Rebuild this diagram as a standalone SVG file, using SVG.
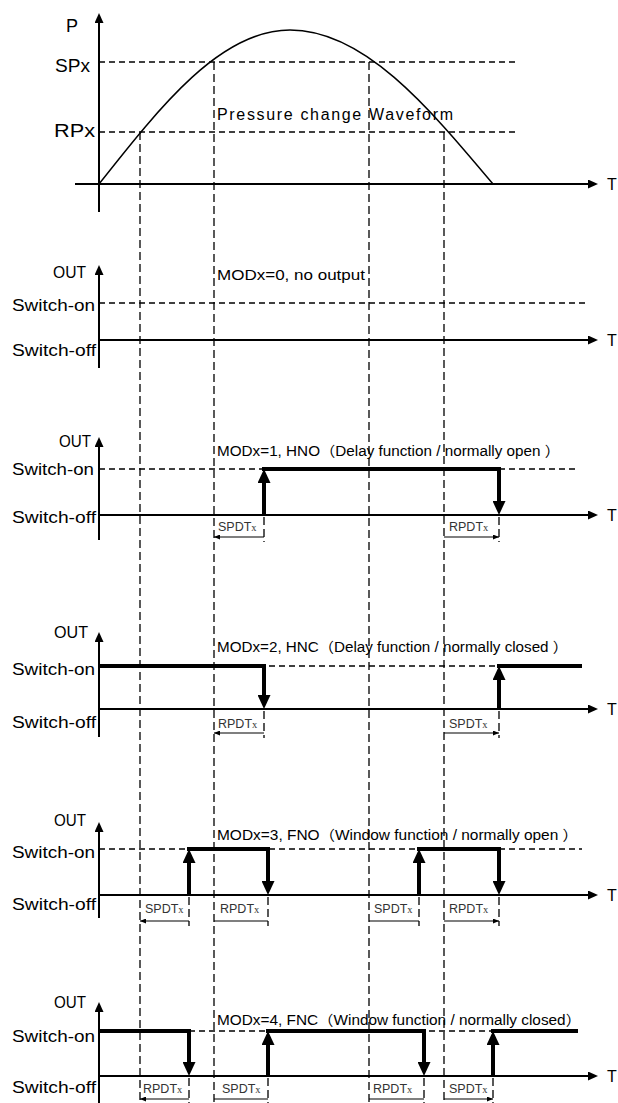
<svg xmlns="http://www.w3.org/2000/svg" width="618" height="1103" viewBox="0 0 618 1103">
<style>
.ax{stroke:#000;stroke-width:2;fill:none}
.xa{stroke:#000;stroke-width:1.8;fill:none}
.hd{stroke:#000;stroke-width:1.3;stroke-dasharray:6 4;fill:none}
.vd{stroke:#000;stroke-width:1.3;stroke-dasharray:8 4;fill:none}
.tk{stroke:#000;stroke-width:4;fill:none}
.ta{stroke:#000;stroke-width:4;fill:none;marker-end:url(#big)}
.dm{stroke:#000;stroke-width:1.2;fill:none;marker-start:url(#sm);marker-end:url(#sm)}
.cv{stroke:#000;stroke-width:1.5;fill:none}
text{font-family:"Liberation Sans","Noto Sans CJK KR",sans-serif;fill:#000}
.lb{font-size:16px}
.big{font-size:18px}
.tt{font-size:16px}
.md{font-size:14px}
.dt{font-size:12.5px;fill:#333}
.sx{font-family:"Liberation Serif",serif;font-size:10.5px}
</style>
<defs>
<marker id="ah" viewBox="0 0 10 9" refX="3" refY="4.5" markerWidth="10" markerHeight="9" markerUnits="userSpaceOnUse" orient="auto"><path d="M0,0 L10,4.5 L0,9 z" fill="#000"/></marker>
<marker id="big" viewBox="0 0 14 13" refX="4" refY="6.5" markerWidth="14" markerHeight="13" markerUnits="userSpaceOnUse" orient="auto"><path d="M0,0 L14,6.5 L0,13 z" fill="#000"/></marker>
<marker id="sm" viewBox="0 0 6 5" refX="6" refY="2.5" markerWidth="6" markerHeight="5" markerUnits="userSpaceOnUse" orient="auto-start-reverse"><path d="M0,0 L6,2.5 L0,5 z" fill="#000"/></marker>
</defs>

<g id="guides">
<path class="vd" d="M140,132 V1103 M214,62 V1103 M369,62 V1103 M444,132 V1103"/>
</g>

<g id="pressure">
<path class="ax" d="M99,212 V20" marker-end="url(#ah)"/>
<path class="xa" d="M75,184 H591" marker-end="url(#ah)"/>
<path class="hd" d="M99,62 H517 M99,132 H517"/>
<path class="cv" d="M99,184 C161.3,105.1 220.9,30 290,30 C363.4,30 426.8,105.1 493,184"/>
<text class="big" x="66" y="32">P</text>
<text class="big" x="55" y="72" textLength="35" lengthAdjust="spacingAndGlyphs">SPx</text>
<text class="big" x="54" y="137" textLength="41" lengthAdjust="spacingAndGlyphs">RPx</text>
<text class="lb" x="217" y="120" textLength="236" lengthAdjust="spacing">Pressure change  Waveform</text>
<text class="tt" x="607" y="190">T</text>
</g>

<g id="mod0">
<path class="ax" d="M99,368 V272" marker-end="url(#ah)"/>
<path class="hd" d="M99,303 H587"/>
<path class="xa" d="M99,340 H591" marker-end="url(#ah)"/>
<text class="lb" x="53" y="278" textLength="33" lengthAdjust="spacingAndGlyphs">OUT</text>
<text class="lb" x="12" y="311" textLength="83" lengthAdjust="spacingAndGlyphs">Switch-on</text>
<text class="lb" x="12" y="356" textLength="84" lengthAdjust="spacingAndGlyphs">Switch-off</text>
<text class="md" x="217" y="280" textLength="148" lengthAdjust="spacingAndGlyphs">MODx=0,  no output</text>
<text class="tt" x="607" y="346">T</text>
</g>

<g id="mod1">
<path class="ax" d="M99,540 V444" marker-end="url(#ah)"/>
<path class="hd" d="M99,469 H578"/>
<path class="xa" d="M99,515 H591" marker-end="url(#ah)"/>
<path class="tk" d="M262,469 H501"/>
<path class="ta" d="M264,515 V479"/>
<path class="ta" d="M499,467 V505"/>
<path class="vd" d="M264,517 V542 M499,517 V542"/>
<path class="dm" d="M214,537 H264 M444,537 H499"/>
<text class="lb" x="59" y="447" textLength="32" lengthAdjust="spacingAndGlyphs">OUT</text>
<text class="lb" x="12" y="475" textLength="82" lengthAdjust="spacingAndGlyphs">Switch-on</text>
<text class="lb" x="12" y="523" textLength="84" lengthAdjust="spacingAndGlyphs">Switch-off</text>
<text class="md" x="217" y="456" textLength="343" lengthAdjust="spacingAndGlyphs">MODx=1, HNO（Delay function / normally open ）</text>
<text class="dt" x="218" y="531">SPDT<tspan class="sx">x</tspan></text>
<text class="dt" x="449" y="531">RPDT<tspan class="sx">x</tspan></text>
<text class="tt" x="607" y="521">T</text>
</g>

<g id="mod2">
<path class="ax" d="M99,737 V639" marker-end="url(#ah)"/>
<path class="hd" d="M99,666 H582"/>
<path class="xa" d="M99,709 H591" marker-end="url(#ah)"/>
<path class="tk" d="M99,666 H266 M497,666 H582"/>
<path class="ta" d="M264,664 V699"/>
<path class="ta" d="M499,709 V676"/>
<path class="vd" d="M264,711 V738 M499,711 V738"/>
<path class="dm" d="M214,733 H264 M444,733 H499"/>
<text class="lb" x="54" y="638" textLength="34" lengthAdjust="spacingAndGlyphs">OUT</text>
<text class="lb" x="12" y="675" textLength="83" lengthAdjust="spacingAndGlyphs">Switch-on</text>
<text class="lb" x="12" y="728" textLength="84" lengthAdjust="spacingAndGlyphs">Switch-off</text>
<text class="md" x="217" y="652" textLength="351" lengthAdjust="spacingAndGlyphs">MODx=2, HNC（Delay function / normally closed ）</text>
<text class="dt" x="218" y="728">RPDT<tspan class="sx">x</tspan></text>
<text class="dt" x="449" y="728">SPDT<tspan class="sx">x</tspan></text>
<text class="tt" x="607" y="715">T</text>
</g>

<g id="mod3">
<path class="ax" d="M99,918 V829" marker-end="url(#ah)"/>
<path class="hd" d="M99,849 H582"/>
<path class="xa" d="M99,895 H591" marker-end="url(#ah)"/>
<path class="tk" d="M187,849 H270 M417,849 H501"/>
<path class="ta" d="M189,895 V859"/>
<path class="ta" d="M268,847 V885"/>
<path class="ta" d="M419,895 V859"/>
<path class="ta" d="M499,847 V885"/>
<path class="vd" d="M189,897 V926 M268,897 V926 M419,897 V926 M499,897 V926"/>
<path class="dm" d="M140,921 H189 M214,921 H268 M369,921 H419 M444,921 H499"/>
<text class="lb" x="54" y="826" textLength="32" lengthAdjust="spacingAndGlyphs">OUT</text>
<text class="lb" x="12" y="858" textLength="83" lengthAdjust="spacingAndGlyphs">Switch-on</text>
<text class="lb" x="12" y="910" textLength="84" lengthAdjust="spacingAndGlyphs">Switch-off</text>
<text class="md" x="217" y="840" textLength="361" lengthAdjust="spacingAndGlyphs">MODx=3, FNO（Window function / normally open ）</text>
<text class="dt" x="145" y="913">SPDT<tspan class="sx">x</tspan></text>
<text class="dt" x="220" y="913">RPDT<tspan class="sx">x</tspan></text>
<text class="dt" x="374" y="913">SPDT<tspan class="sx">x</tspan></text>
<text class="dt" x="449" y="913">RPDT<tspan class="sx">x</tspan></text>
<text class="tt" x="607" y="901">T</text>
</g>

<g id="mod4">
<path class="ax" d="M99,1103 V1009" marker-end="url(#ah)"/>
<path class="hd" d="M99,1031 H578"/>
<path class="xa" d="M99,1076 H591" marker-end="url(#ah)"/>
<path class="tk" d="M99,1031 H191 M266,1031 H426 M491,1031 H578"/>
<path class="ta" d="M189,1029 V1066"/>
<path class="ta" d="M268,1076 V1041"/>
<path class="ta" d="M424,1029 V1066"/>
<path class="ta" d="M493,1076 V1041"/>
<path class="vd" d="M189,1078 V1103 M268,1078 V1103 M424,1078 V1103 M493,1078 V1103"/>
<path class="dm" d="M140,1099 H189 M214,1099 H268 M369,1099 H424 M444,1099 H493"/>
<text class="lb" x="54" y="1008" textLength="32" lengthAdjust="spacingAndGlyphs">OUT</text>
<text class="lb" x="12" y="1042" textLength="83" lengthAdjust="spacingAndGlyphs">Switch-on</text>
<text class="lb" x="12" y="1093" textLength="84" lengthAdjust="spacingAndGlyphs">Switch-off</text>
<text class="md" x="217" y="1025" textLength="364" lengthAdjust="spacingAndGlyphs">MODx=4, FNC（Window function / normally closed）</text>
<text class="dt" x="143" y="1093">RPDT<tspan class="sx">x</tspan></text>
<text class="dt" x="222" y="1093">SPDT<tspan class="sx">x</tspan></text>
<text class="dt" x="373" y="1093">RPDT<tspan class="sx">x</tspan></text>
<text class="dt" x="449" y="1093">SPDT<tspan class="sx">x</tspan></text>
<text class="tt" x="607" y="1082">T</text>
</g>
</svg>
